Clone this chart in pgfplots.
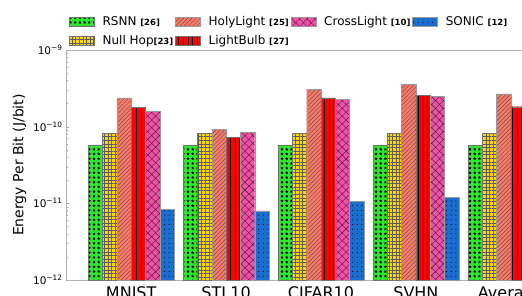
\documentclass[border=0pt]{standalone}
\usepackage{fontspec}
\setmainfont{DejaVu Sans}
\usepackage{pgfplots}
\usepackage{pgfplotstable}
\pgfplotsset{compat=1.18}
\usetikzlibrary{patterns.meta}
\definecolor{cRSNN}{HTML}{2EE82E}
\definecolor{cNull}{HTML}{FFD700}
\definecolor{cHoly}{HTML}{F47C6C}
\definecolor{cBulb}{HTML}{FF0000}
\definecolor{cCross}{HTML}{F250A8}
\definecolor{cSonic}{HTML}{1A6ED0}
\pgfplotstableread{
x rsnn null holy bulb cross sonic
0 5.66e-11 8.1e-11 2.38e-10 1.78e-10 1.60e-10 8.4e-12
1 5.66e-11 8.1e-11 9.3e-11 7.3e-11 8.4e-11 8.0e-12
2 5.66e-11 8.1e-11 3.09e-10 2.38e-10 2.29e-10 1.07e-11
3 5.66e-11 8.1e-11 3.59e-10 2.58e-10 2.48e-10 1.2e-11
4 5.66e-11 8.1e-11 2.68e-10 1.82e-10 1.80e-10 9.8e-12
}\data
\pgfplotsset{
  srsnn/.style={fill=cRSNN, draw=black!55, line width=0.4pt, postaction={pattern={Stars[distance=4.7pt, radius=1.6pt, points=5]}, pattern color=black}},
  snull/.style={fill=cNull, draw=black!55, line width=0.4pt, postaction={pattern={Hatch[distance=3.6pt, angle=0, line width=0.3pt]}, pattern color=black!65}},
  sholy/.style={fill=cHoly, draw=black!40, line width=0.4pt, postaction={pattern={Lines[distance=3pt, angle=45, line width=0.5pt]}, pattern color=black!45!cHoly}},
  sbulb/.style={fill=cBulb, draw=black!55, line width=0.4pt, postaction={pattern={Lines[distance=4.7pt, angle=90, line width=0.6pt]}, pattern color=black}},
  scross/.style={fill=cCross, draw=black!40, line width=0.4pt, postaction={pattern={Hatch[distance=5.5pt, angle=45, line width=0.4pt]}, pattern color=black!70!cCross}},
  ssonic/.style={fill=cSonic, draw=black!40, line width=0.4pt, postaction={pattern={Dots[distance=4.7pt, radius=0.55pt]}, pattern color=black}},
}
\newcommand{\refc}[1]{{\fontsize{8.5}{8.5}\selectfont\bfseries[#1]}}
\begin{document}
\begin{tikzpicture}
\useasboundingbox (-66pt,-15pt) rectangle (456pt,280pt);
\clip (-66pt,-15pt) rectangle (456pt,280pt);
\begin{axis}[
  at={(0,0)}, anchor=south west,
  scale only axis, width=510pt, height=230pt,
  ymode=log, ymin=1e-12, ymax=1e-9, log origin=infty,
  xmin=-0.687, xmax=4.687,
  ybar=0pt, bar width=14.3pt,
  xtick={0,1,2,3,4},
  xticklabels={MNIST,STL10,CIFAR10,SVHN,Average},
  x tick label style={font=\fontsize{16}{16}\selectfont},
  major x tick style={draw=none},
  ytick={1e-12,1e-11,1e-10,1e-9},
  yticklabels={10\textsuperscript{−12},10\textsuperscript{−11},10\textsuperscript{−10},10\textsuperscript{−9}},
  y tick label style={font=\fontsize{10.5}{10.5}\selectfont},
  tick pos=left,
  ytick style={gray!70},
  major tick length=3pt, minor tick length=2pt,
  axis line style={gray!60},
  ylabel={Energy Per Bit (J/bit)},
  ylabel style={font=\fontsize{14}{14}\selectfont},
  ylabel shift=0pt,
  legend columns=4,
  legend cell align=left,
  legend image code/.code={\draw[#1] (0pt,-4.5pt) rectangle (25pt,4.5pt);},
  legend style={at={(0,1)}, anchor=south west, xshift=3pt, yshift=2pt, draw=none, fill=none, inner sep=0pt,
    font=\fontsize{12}{12}\selectfont,
    /tikz/every odd column/.append style={column sep=6pt},
    /tikz/every even column/.append style={column sep=0pt},
    row sep=4pt},
]
\addplot[srsnn, bar shift=-35.75pt, forget plot] table[x=x,y=rsnn]{\data};
\addplot[snull, bar shift=-21.45pt, forget plot] table[x=x,y=null]{\data};
\addplot[sholy, bar shift=-7.15pt, forget plot] table[x=x,y=holy]{\data};
\addplot[sbulb, bar shift=7.15pt, forget plot] table[x=x,y=bulb]{\data};
\addplot[scross, bar shift=21.45pt, forget plot] table[x=x,y=cross]{\data};
\addplot[ssonic, bar shift=35.75pt, forget plot] table[x=x,y=sonic]{\data};
\addlegendimage{srsnn}\addlegendentry{RSNN \refc{26}}
\addlegendimage{sholy}\addlegendentry{HolyLight \refc{25}}
\addlegendimage{scross}\addlegendentry{CrossLight \refc{10}}
\addlegendimage{ssonic}\addlegendentry{SONIC \refc{12}}
\addlegendimage{snull}\addlegendentry{Null Hop\refc{23}}
\addlegendimage{sbulb}\addlegendentry{LightBulb \refc{27}}
\end{axis}
\end{tikzpicture}
\end{document}
